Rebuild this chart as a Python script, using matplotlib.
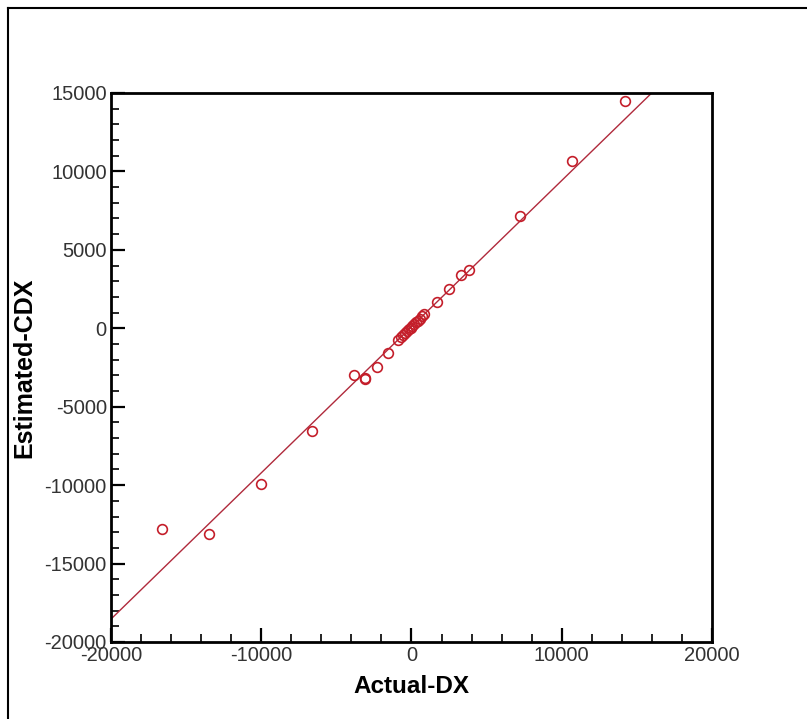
import matplotlib.pyplot as plt
import numpy as np

# scatter values
actual_dx = [14200, 10700, 7200, 3800, 3300, 2500, 1700,
             850, 700, 550, 420, 300, 180, 60, -60, -180, -300, -430, -560, -700, -900,
             -1570, -2300, -3100, -3100, -3800, -6600, -10000, -13500, -16600]
estimated_cdx = [14500, 10650, 7150, 3700, 3400, 2500, 1650,
                 900, 760, 620, 490, 380, 260, 150, 40, -70, -180, -300, -430, -560, -720,
                 -1570, -2450, -3150, -3250, -2970, -6550, -9920, -13100, -12800]

# fitted line
fit_slope = 0.932
fit_intercept = 100
fit_x = [-20000, 20000]

plt.rcParams['font.family'] = ['Liberation Sans', 'DejaVu Sans']
plt.rcParams['axes.unicode_minus'] = False

fig = plt.figure(figsize=(8.07, 7.19), dpi=100)
ax = fig.add_axes([0.1375, 0.1071, 0.7448, 0.7636])

red = '#c41e2a'
line_red = '#b02a3c'

fx = np.array(fit_x)
ax.plot(fx, fit_slope * fx + fit_intercept, color=line_red, lw=1.0)
ax.plot(actual_dx, estimated_cdx, 'o', mfc='none', mec=red, ms=7, mew=1.2)

ax.set_xlim(-20000, 20000)
ax.set_ylim(-20000, 15000)
ax.set_xticks(range(-20000, 20001, 10000))
ax.set_xticks(range(-20000, 20001, 2000), minor=True)
ax.set_yticks(range(-20000, 15001, 5000))
ax.set_yticks(range(-20000, 15001, 1000), minor=True)

ax.tick_params(which='both', direction='in', top=False, right=False,
               labelsize=14.5, labelcolor='#333333')
ax.tick_params(which='major', length=10, width=1.6, pad=3)
ax.tick_params(which='minor', length=6, width=1.2)
for s in ax.spines.values():
    s.set_linewidth(2)

ax.set_xlabel('Actual-DX', fontsize=17.5, fontweight='bold', labelpad=7)
ax.set_ylabel('Estimated-CDX', fontsize=18, fontweight='bold', labelpad=6)

# outer frame (only top and left visible in the image)
fig.add_artist(plt.Line2D([8 / 807, 8 / 807], [0, 1 - 8 / 719], color='black', lw=1.5,
                          transform=fig.transFigure))
fig.add_artist(plt.Line2D([8 / 807, 1], [1 - 8 / 719, 1 - 8 / 719], color='black', lw=1.5,
                          transform=fig.transFigure))

fig.savefig('out.png', dpi=100)
